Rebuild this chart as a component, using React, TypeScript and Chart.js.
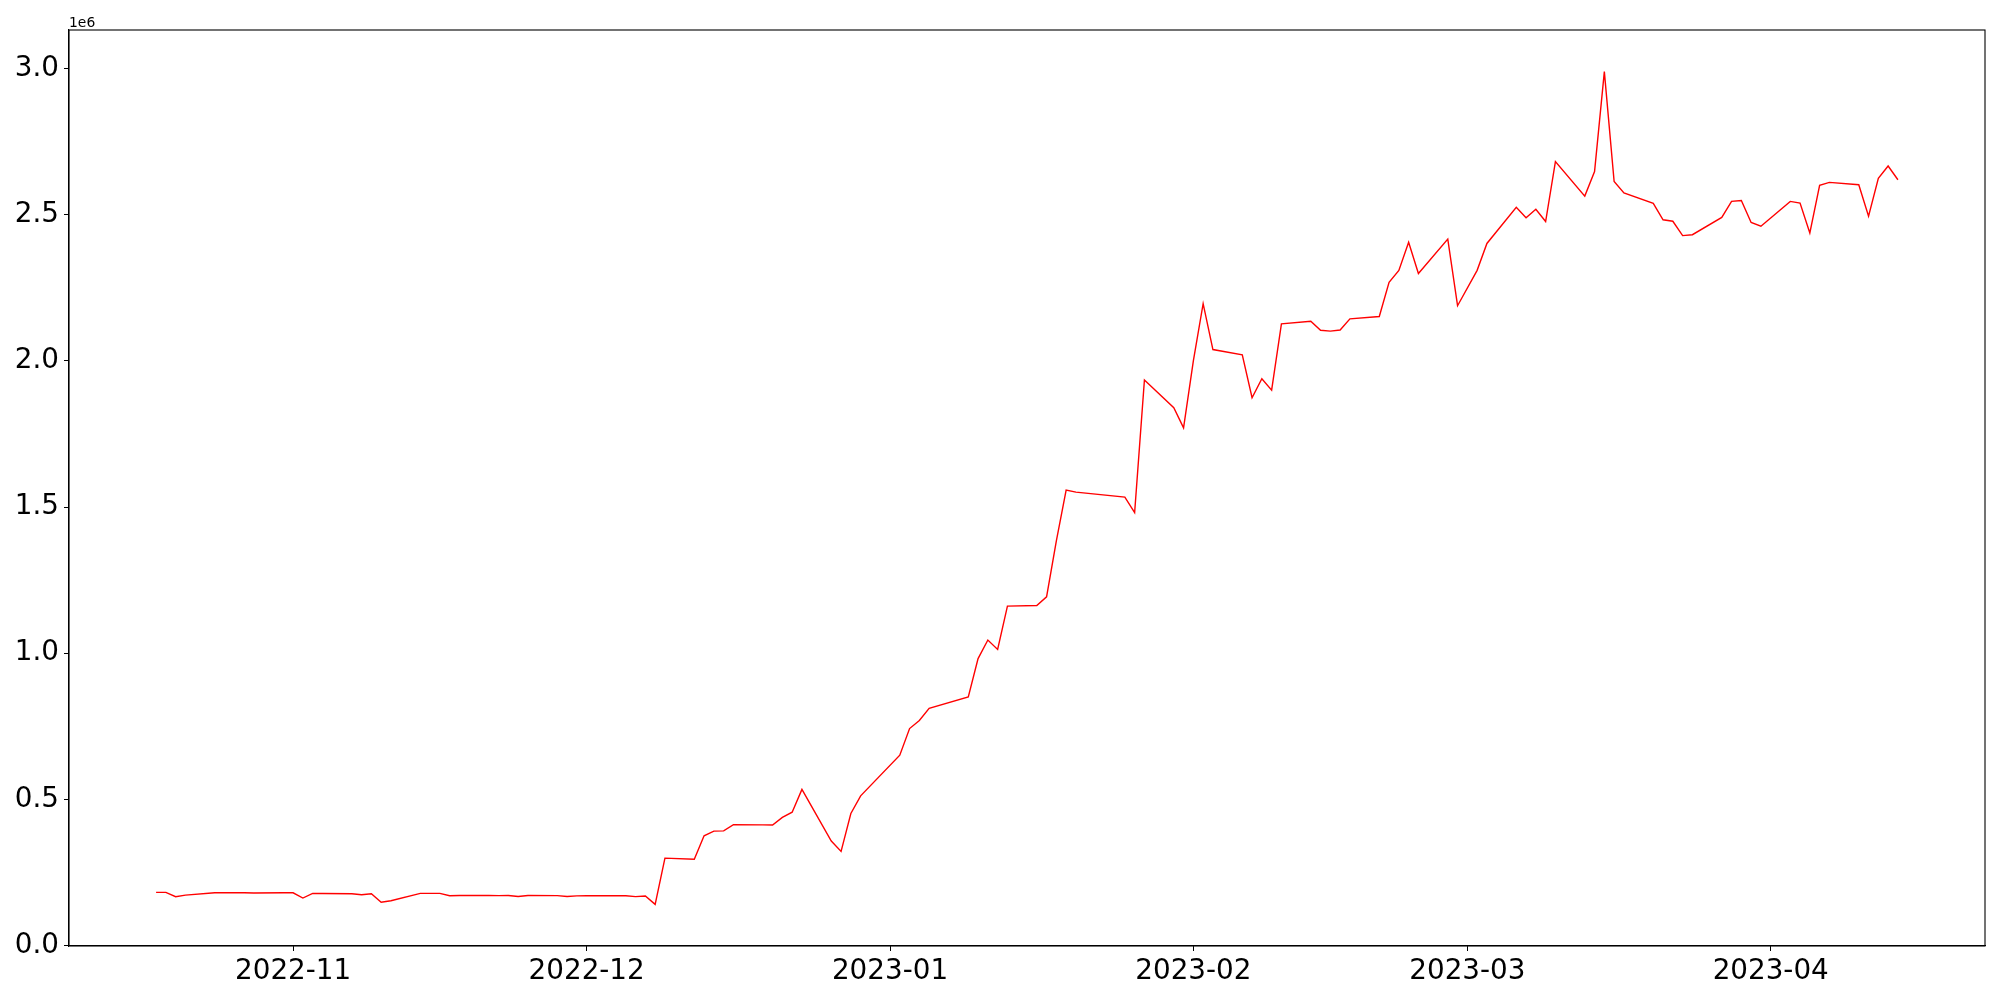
import React, { useEffect, useRef } from "react";
import { Chart, registerables } from "chart.js";

Chart.register(...registerables);

const dates: string[] = [
  "2022-10-18", "2022-10-19", "2022-10-20", "2022-10-21", "2022-10-24", "2022-10-25", "2022-10-26", "2022-10-27", "2022-10-28", "2022-10-31",
  "2022-11-01", "2022-11-02", "2022-11-03", "2022-11-04", "2022-11-07", "2022-11-08", "2022-11-09", "2022-11-10", "2022-11-11", "2022-11-14",
  "2022-11-15", "2022-11-16", "2022-11-17", "2022-11-18", "2022-11-21", "2022-11-22", "2022-11-23", "2022-11-24", "2022-11-25", "2022-11-28",
  "2022-11-29", "2022-11-30", "2022-12-01", "2022-12-02", "2022-12-05", "2022-12-06", "2022-12-07", "2022-12-08", "2022-12-09", "2022-12-12",
  "2022-12-13", "2022-12-14", "2022-12-15", "2022-12-16", "2022-12-19", "2022-12-20", "2022-12-21", "2022-12-22", "2022-12-23", "2022-12-26",
  "2022-12-27", "2022-12-28", "2022-12-29", "2023-01-02", "2023-01-03", "2023-01-04", "2023-01-05", "2023-01-09", "2023-01-10", "2023-01-11",
  "2023-01-12", "2023-01-13", "2023-01-16", "2023-01-17", "2023-01-18", "2023-01-19", "2023-01-20", "2023-01-25", "2023-01-26", "2023-01-27",
  "2023-01-30", "2023-01-31", "2023-02-01", "2023-02-02", "2023-02-03", "2023-02-06", "2023-02-07", "2023-02-08", "2023-02-09", "2023-02-10",
  "2023-02-13", "2023-02-14", "2023-02-15", "2023-02-16", "2023-02-17", "2023-02-20", "2023-02-21", "2023-02-22", "2023-02-23", "2023-02-24",
  "2023-02-27", "2023-02-28", "2023-03-02", "2023-03-03", "2023-03-06", "2023-03-07", "2023-03-08", "2023-03-09", "2023-03-10", "2023-03-13",
  "2023-03-14", "2023-03-15", "2023-03-16", "2023-03-17", "2023-03-20", "2023-03-21", "2023-03-22", "2023-03-23", "2023-03-24", "2023-03-27",
  "2023-03-28", "2023-03-29", "2023-03-30", "2023-03-31", "2023-04-03", "2023-04-04", "2023-04-05", "2023-04-06", "2023-04-07", "2023-04-10",
  "2023-04-11", "2023-04-12", "2023-04-13", "2023-04-14",
];

const values: number[] = [
  181500, 181500, 166700, 172000, 180000, 180000, 180000, 180000, 179500, 180000,
  180000, 162000, 178000, 177500, 177000, 173500, 177000, 148000, 153000, 178000,
  178000, 178000, 170000, 171000, 171000, 170500, 171000, 167500, 171000, 170500,
  167500, 169500, 170000, 170000, 170000, 167000, 169000, 140500, 298800, 295000,
  375000, 391000, 392000, 413000, 412500, 412000, 438000, 456000, 534000, 357000,
  321600, 451500, 512000, 651000, 742000, 769500, 811500, 850000, 981400, 1045000,
  1013000, 1161000, 1163000, 1193000, 1384000, 1558000, 1551000, 1534000, 1481000, 1935000,
  1840000, 1771000, 2000000, 2196000, 2039000, 2021000, 1874000, 1939000, 1900000, 2127000,
  2136000, 2105000, 2102000, 2106000, 2144000, 2152000, 2269000, 2310000, 2406000, 2299000,
  2417000, 2189000, 2310000, 2402000, 2526000, 2490000, 2519000, 2477000, 2682000, 2564000,
  2648000, 2990000, 2614000, 2575000, 2539000, 2483000, 2478000, 2429000, 2432000, 2491000,
  2546000, 2549000, 2474000, 2461000, 2546000, 2540000, 2438000, 2601000, 2611000, 2603000,
  2495000, 2625000, 2667000, 2620000,
];

const xTickDates: string[] = ["2022-11-01", "2022-12-01", "2023-01-01", "2023-02-01", "2023-03-01", "2023-04-01"];
const yTicks: number[] = [0, 500000, 1000000, 1500000, 2000000, 2500000, 3000000];

const DAY = 86400000;
const toDay = (s: string) => {
  const [y, m, d] = s.split("-").map(Number);
  return Date.UTC(y, m - 1, d) / DAY;
};
const fmtMonth = (v: number) => {
  const dt = new Date(Math.round(v) * DAY);
  const mm = String(dt.getUTCMonth() + 1).padStart(2, "0");
  return `${dt.getUTCFullYear()}-${mm}`;
};

export default function App() {
  const ref = useRef<HTMLCanvasElement | null>(null);

  useEffect(() => {
    if (!ref.current) return;
    const xs = dates.map(toDay);
    const pts = xs.map((x, i) => ({ x, y: values[i] }));
    const xMinD = Math.min(...xs);
    const xMaxD = Math.max(...xs);
    const yMinD = Math.min(...values);
    const yMaxD = Math.max(...values);
    const xm = (xMaxD - xMinD) * 0.05;
    const ym = (yMaxD - yMinD) * 0.05;
    const font = { family: "DejaVu Sans", size: 27.8 };

    const frame = {
      id: "frame",
      afterDraw(chart: any) {
        const { ctx, chartArea } = chart;
        ctx.save();
        ctx.strokeStyle = "#000";
        ctx.lineWidth = 1.1;
        ctx.strokeRect(chartArea.left, chartArea.top, chartArea.right - chartArea.left, chartArea.bottom - chartArea.top);
        ctx.fillStyle = "#000";
        ctx.font = "13.9px 'DejaVu Sans'";
        ctx.textAlign = "left";
        ctx.textBaseline = "alphabetic";
        ctx.fillText("1e6", chartArea.left, chartArea.top - 3);
        ctx.restore();
      },
    };

    const chart = new Chart(ref.current, {
      type: "line",
      data: {
        datasets: [
          {
            data: pts,
            borderColor: "#ff0000",
            borderWidth: 1.4,
            pointRadius: 0,
            tension: 0,
            fill: false,
          },
        ],
      },
      options: {
        animation: false,
        responsive: false,
        maintainAspectRatio: false,
        layout: { padding: { top: 30, right: 15, left: 0, bottom: 0 } },
        plugins: { legend: { display: false }, tooltip: { enabled: false } },
        scales: {
          x: {
            type: "linear",
            min: xMinD - xm,
            max: xMaxD + xm,
            afterBuildTicks: (scale: any) => {
              scale.ticks = xTickDates.map((d) => ({ value: toDay(d) }));
            },
            afterFit: (scale: any) => {
              scale.height = 54;
            },
            ticks: {
              callback: (v: any) => fmtMonth(Number(v)),
              color: "#000",
              font,
              maxRotation: 0,
              autoSkip: false,
              padding: 4,
            },
            grid: { display: true, drawOnChartArea: false, drawTicks: true, tickLength: 5, tickColor: "#000", color: "#000" },
            border: { display: true, color: "#000", width: 1.1 },
          },
          y: {
            type: "linear",
            min: yMinD - ym,
            max: yMaxD + ym,
            afterBuildTicks: (scale: any) => {
              scale.ticks = yTicks.map((v) => ({ value: v }));
            },
            afterFit: (scale: any) => {
              scale.width = 69;
            },
            ticks: {
              callback: (v: any) => (Number(v) / 1e6).toFixed(1),
              color: "#000",
              font,
              padding: 5,
            },
            grid: { display: true, drawOnChartArea: false, drawTicks: true, tickLength: 5, tickColor: "#000", color: "#000" },
            border: { display: true, color: "#000", width: 1.1 },
          },
        },
      },
      plugins: [frame],
    } as any);

    return () => chart.destroy();
  }, []);

  return (
    <div style={{ position: "fixed", left: 0, top: 0, width: 2000, height: 1000, background: "#fff" }}>
      <canvas ref={ref} width={2000} height={1000} style={{ width: 2000, height: 1000, display: "block" }} />
    </div>
  );
}
